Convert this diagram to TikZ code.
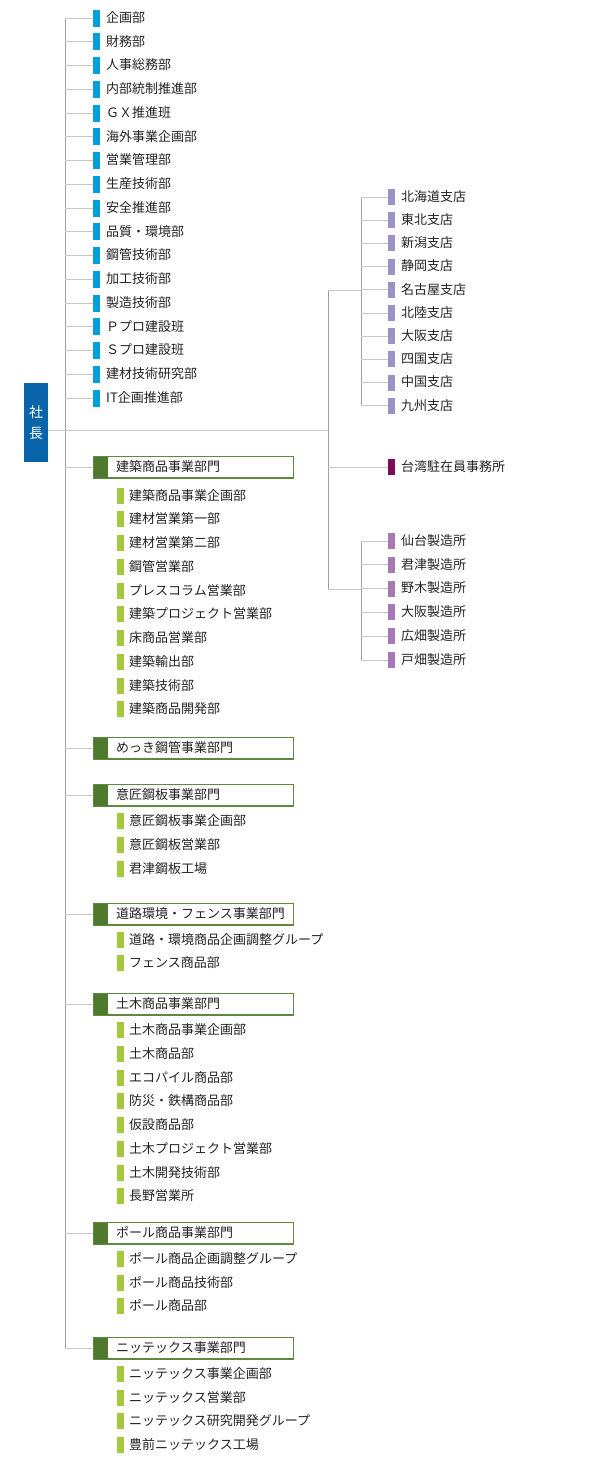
\documentclass[tikz,border=0pt]{standalone}
\usepackage{fontspec}
\setmainfont{Noto Sans CJK JP}
\definecolor{txt}{HTML}{222222}
\definecolor{lnlight}{HTML}{C8C8C8}
\definecolor{lndark}{HTML}{A0A0A0}
\definecolor{ceoblue}{HTML}{0A64AA}
\definecolor{staffblue}{HTML}{00A0DC}
\definecolor{divdark}{HTML}{4F7A2E}
\definecolor{divline}{HTML}{5D8A3C}
\definecolor{subgreen}{HTML}{A5C93C}
\definecolor{shopviolet}{HTML}{9D92C3}
\definecolor{taiwan}{HTML}{7B0C5C}
\definecolor{plantviolet}{HTML}{A878B4}

\begin{document}
\begin{tikzpicture}[x=1pt, y=-1pt, every node/.style={font=\fontsize{13}{15}\selectfont, text=txt}, ln/.style={draw=lnlight, line width=0.8pt}, tr/.style={draw=lndark, line width=0.8pt}, mk/.style={fill=#1, minimum width=7pt, minimum height=17pt, inner sep=0pt, anchor=west}, lbl/.style={anchor=west, inner sep=0pt, text height=10.5pt, text depth=2pt}, dv/.style={draw=divline, fill=white, line width=0.8pt, minimum width=200pt, minimum height=21pt, inner sep=0pt, anchor=west}]
	\useasboundingbox (0,0) rectangle (595,1460);
	\node[fill=ceoblue, text=white, minimum width=24pt, minimum height=79pt, inner sep=0pt, align=center, font=\fontsize{14}{21}\selectfont] (ceo) at (36,422.5) {社\\長};
	\coordinate (ltop) at (65,18); \coordinate (lbot) at (65,1348);
	\coordinate (rj) at (328,430); \coordinate (rtop) at (328,290); \coordinate (rbot) at (328,589);
	\draw[tr] (ltop) -- (lbot);
	\draw[tr] (rtop) -- (rbot);
	\draw[ln] (ceo.east |- rj) -- (rj);
	\foreach \t [count=\i] in {企画部,財務部,人事総務部,内部統制推進部,ＧＸ推進班,海外事業企画部,営業管理部,生産技術部,安全推進部,品質・環境部,鋼管技術部,加工技術部,製造技術部,Ｐプロ建設班,Ｓプロ建設班,建材技術研究部,IT企画推進部} {\pgfmathsetmacro\y{18+23.75*(\i-1)} \coordinate (ts\i) at (65,\y); \node[mk=staffblue] (s\i) at (93,\y) {}; \node[lbl] (st\i) at (106,\y) {\t}; \draw[ln] (ts\i) -- (s\i);}
	\foreach \y/\t [count=\i] in {467/建築商品事業部門,748/めっき鋼管事業部門,795/意匠鋼板事業部門,914/道路環境・フェンス事業部門,1004/土木商品事業部門,1233/ポール商品事業部門,1348/ニッテックス事業部門} {\coordinate (td\i) at (65,\y); \node[dv] (d\i) at (93,\y) {}; \fill[divdark] (d\i.north west) rectangle ([xshift=15pt]d\i.south west); \draw[divline, line width=0.8pt] (d\i.north west) rectangle (d\i.south east); \node[lbl] (dt\i) at (116,\y) {\t}; \draw[ln] (td\i) -- (d\i);}
	\foreach \y/\t [count=\i] in {496/建築商品事業企画部,519/建材営業第一部,543/建材営業第二部,567/鋼管営業部,591/プレスコラム営業部,614/建築プロジェクト営業部,638/床商品営業部,662/建築輸出部,686/建築技術部,709/建築商品開発部,821/意匠鋼板事業企画部,845/意匠鋼板営業部,869/君津鋼板工場,940/道路・環境商品企画調整グループ,963/フェンス商品部,1030/土木商品事業企画部,1054/土木商品部,1078/エコパイル商品部,1101/防災・鉄構商品部,1125/仮設商品部,1149/土木プロジェクト営業部,1173/土木開発技術部,1196/長野営業所,1259/ポール商品企画調整グループ,1283/ポール商品技術部,1306/ポール商品部,1374/ニッテックス事業企画部,1398/ニッテックス営業部,1421/ニッテックス研究開発グループ,1445/豊前ニッテックス工場} {\node[mk=subgreen, minimum width=6.5pt, minimum height=16pt] (u\i) at (117,\y) {}; \node[lbl] (ut\i) at (129,\y) {\t};}
	\coordinate (btop) at (361,197); \coordinate (bbot) at (361,406); \coordinate (bj) at (361,290);
	\draw[tr] (btop) -- (bbot);
	\draw[ln] (rtop) -- (bj);
	\foreach \t [count=\i] in {北海道支店,東北支店,新潟支店,静岡支店,名古屋支店,北陸支店,大阪支店,四国支店,中国支店,九州支店} {\pgfmathsetmacro\y{197+23.2*(\i-1)} \coordinate (tb\i) at (361,\y); \node[mk=shopviolet, minimum height=16pt] (b\i) at (388,\y) {}; \node[lbl] (bt\i) at (401,\y) {\t}; \draw[ln] (tb\i) -- (b\i);}
	\coordinate (tw) at (328,467);
	\node[mk=taiwan, minimum height=16pt] (tai) at (388,467) {};
	\node[lbl] (tait) at (401,467) {台湾駐在員事務所};
	\draw[ln] (tw) -- (tai);
	\coordinate (ftop) at (361,541); \coordinate (fbot) at (361,660); \coordinate (fj) at (361,589);
	\draw[tr] (ftop) -- (fbot);
	\draw[ln] (rbot) -- (fj);
	\foreach \t [count=\i] in {仙台製造所,君津製造所,野木製造所,大阪製造所,広畑製造所,戸畑製造所} {\pgfmathsetmacro\y{541+23.8*(\i-1)} \coordinate (tf\i) at (361,\y); \node[mk=plantviolet, minimum height=16pt] (f\i) at (388,\y) {}; \node[lbl] (ft\i) at (401,\y) {\t}; \draw[ln] (tf\i) -- (f\i);}
\end{tikzpicture}
\end{document}
